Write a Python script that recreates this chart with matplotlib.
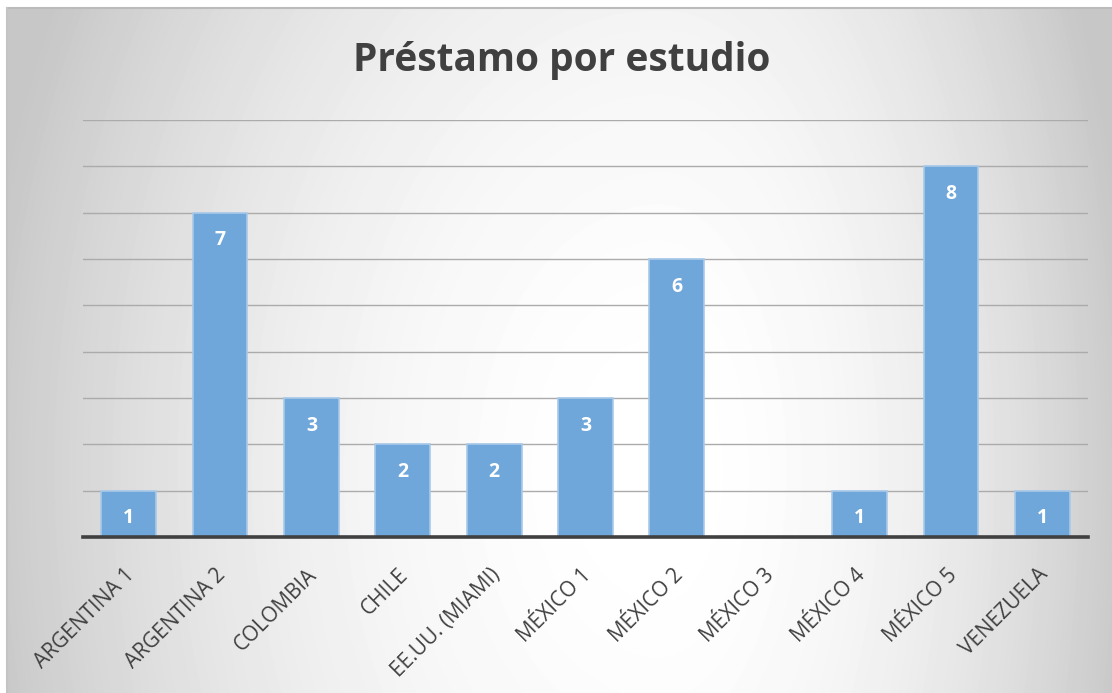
import numpy as np
import matplotlib.pyplot as plt
import matplotlib.transforms as mtransforms

# Préstamos registrados por estudio
estudios = ['ARGENTINA 1', 'ARGENTINA 2', 'COLOMBIA', 'CHILE', 'EE.UU. (MIAMI)',
            'MÉXICO 1', 'MÉXICO 2', 'MÉXICO 3', 'MÉXICO 4', 'MÉXICO 5', 'VENEZUELA']
prestamos = [1, 7, 3, 2, 2, 3, 6, 0, 1, 8, 1]
titulo = 'Préstamo por estudio'

W, H = 1112, 693
fig = plt.figure(figsize=(W/100, H/100), dpi=100)
fig.patch.set_facecolor('white')

## Fondo con degradado radial (blanco al centro, gris en los bordes)
x0, y0 = 7, 8
bg = fig.add_axes([x0/W, 0, 1 - x0/W, (H - y0)/H])
bg.set_axis_off()
xx, yy = np.meshgrid(np.arange(x0, W), np.arange(y0, H))
cx, cy = 660., 470.
sx = np.where(xx < cx, cx - x0, W - cx)
dx = (xx - cx)/sx
dy = (yy - cy)/950.
d2 = dx**2 + dy**2
val = np.clip(1 - 0.2*d2, 0.78, 1)
bg.imshow(val, cmap='gray', vmin=0, vmax=1, aspect='auto',
          extent=[0, 1, 0, 1], interpolation='bilinear')
bg.set_xlim(0, 1)
bg.set_ylim(0, 1)
bg.plot([0, 1], [1, 1], color='#BBBBBB', lw=1.5, clip_on=False)
bg.plot([0, 0], [0, 1], color='#C4C4C4', lw=1.5, clip_on=False)

## Zona del gráfico
ax = fig.add_axes([83/W, 156/H, (1088-83)/W, (537-120)/H])
ax.patch.set_alpha(0)
x = np.arange(len(estudios))
bars = ax.bar(x, prestamos, width=0.6, color='#6FA7DA', edgecolor='#A8C9E9',
              linewidth=1.2, zorder=3)
ax.set_xlim(-0.5, len(estudios) - 0.5)
ax.set_ylim(0, 9)
ax.set_yticks(range(0, 10))
ax.yaxis.grid(True, color='#ABABAB', linewidth=1.0, zorder=0)
ax.tick_params(left=False, labelleft=False, bottom=False, labelbottom=False)
for s in ['top', 'right', 'left']:
    ax.spines[s].set_visible(False)
ax.spines['bottom'].set_color('#404040')
ax.spines['bottom'].set_linewidth(2.6)
ax.spines['bottom'].set_zorder(4)

## Valores dentro de cada barra
for xi, v in zip(x, prestamos):
    if v > 0:
        ax.annotate(str(v), (xi, v), xytext=(0, -20), textcoords='offset points',
                    ha='center', va='center', color='white', fontsize=14,
                    fontweight='bold', family='Open Sans', zorder=5)

## Etiquetas del eje x, giradas 45 grados
off = mtransforms.ScaledTranslation(2/72, -25/72, fig.dpi_scale_trans)
for xi, lab in zip(x, estudios):
    ax.text(xi, 0, lab, transform=ax.transData + off, rotation=45,
            rotation_mode='anchor', ha='right', va='center', fontsize=15,
            color='#404040', family='Open Sans')

fig.text(562/W, 1 - 60/H, titulo, ha='center', va='center', fontsize=28,
         fontweight='bold', color='#404040', family='Open Sans')

fig.savefig('out.png', dpi=100)
